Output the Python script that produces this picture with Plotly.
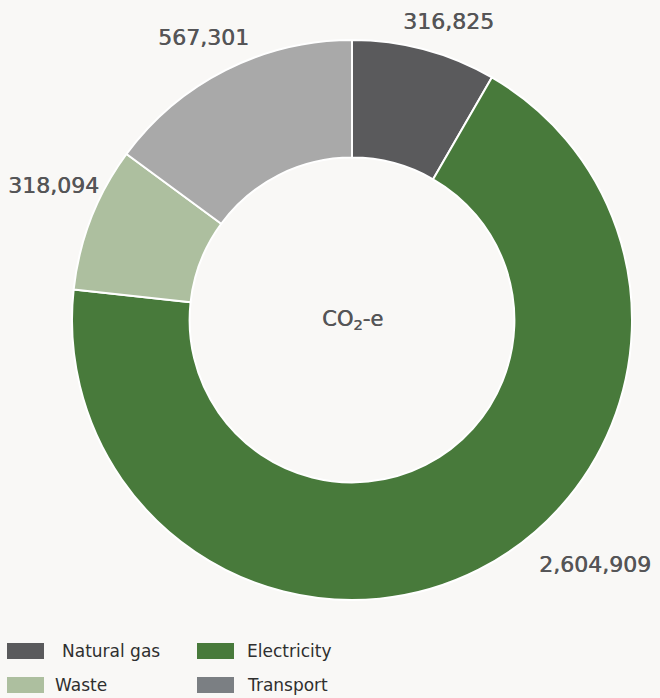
import math
import plotly.graph_objects as go

# Emission sources and their CO2-e totals
sources = ["Natural gas", "Electricity", "Waste", "Transport"]
emissions = [316825, 2604909, 318094, 567301]
slice_colors = ["#5a5a5c", "#487a3b", "#adbf9f", "#a9a9a9"]
legend_colors = ["#5a5a5c", "#487a3b", "#adbf9f", "#7b7f83"]

W, H = 660, 698
CX, CY, R = 352, 320, 280          # donut centre and outer radius (px)
HOLE = 0.58

# Label placement: angular nudge (deg) and radial distance as multiple of R
label_nudge = [3, -18, 3, -1]
label_dist = [1.12, 1.23, 1.17, 1.14]

VALUE_COLOR = "#555557"
FONT = "DejaVu Sans"
# a faint horizontal echo gives the labels a medium weight
MEDIUM = f"0.6px 0 0 {VALUE_COLOR}"

fig = go.Figure()
fig.add_trace(go.Pie(
    labels=sources,
    values=emissions,
    marker=dict(colors=slice_colors, line=dict(color="white", width=2)),
    hole=HOLE,
    sort=False,
    direction="clockwise",
    rotation=0,
    textinfo="none",
    hoverinfo="label+value",
    showlegend=False,
    domain=dict(x=[(CX - R) / W, (CX + R) / W],
                y=[(H - CY - R) / H, (H - CY + R) / H]),
))

annotations = []
total = sum(emissions)
cum = 0
for i, v in enumerate(emissions):
    mid = (cum + v / 2) / total * 360
    cum += v
    ang = math.radians(mid + label_nudge[i])
    r = R * label_dist[i]
    px = CX + r * math.sin(ang)
    py = CY - r * math.cos(ang)
    annotations.append(dict(
        x=px / W, y=1 - py / H, xref="paper", yref="paper",
        text=f"{v:,}", showarrow=False, xanchor="center", yanchor="middle",
        font=dict(family=FONT, size=22, color=VALUE_COLOR, shadow=MEDIUM),
    ))

# Centre caption
annotations.append(dict(
    x=CX / W, y=1 - CY / H, xref="paper", yref="paper",
    text="CO<sub>2</sub>-e", showarrow=False, xanchor="center", yanchor="middle",
    font=dict(family=FONT, size=21, color=VALUE_COLOR, shadow=MEDIUM),
))

# Custom two-column legend
shapes = []
legend_cells = [(7, 651, 60), (197, 651, 245), (7, 685, 53), (197, 685, 245)]
legend_order = [0, 1, 2, 3]
for (sx, sy, tx), idx in zip(legend_cells, legend_order):
    shapes.append(dict(
        type="rect", xref="paper", yref="paper",
        x0=sx / W, x1=(sx + 37) / W, y0=1 - (sy - 8) / H, y1=1 - (sy + 8) / H,
        fillcolor=legend_colors[idx], line=dict(width=0),
    ))
    annotations.append(dict(
        x=tx / W, y=1 - sy / H, xref="paper", yref="paper",
        text=sources[idx], showarrow=False, xanchor="left", yanchor="middle",
        font=dict(family=FONT, size=17, color="#2f2f2f"),
    ))

fig.update_layout(
    width=W, height=H,
    margin=dict(l=0, r=0, t=0, b=0),
    paper_bgcolor="#f9f8f6",
    plot_bgcolor="#f9f8f6",
    annotations=annotations,
    shapes=shapes,
)

fig.write_html("out.html")
